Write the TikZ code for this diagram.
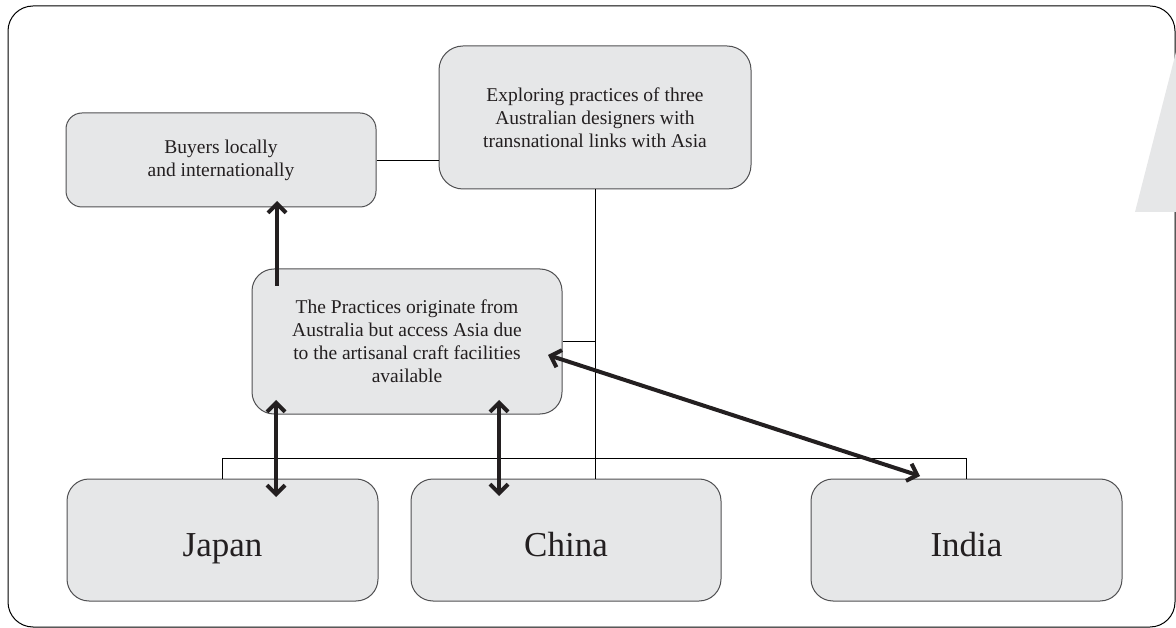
\documentclass[tikz,border=0pt]{standalone}
\usepackage{fontspec}
\setmainfont{Liberation Serif}
\usetikzlibrary{arrows.meta}
\definecolor{boxfill}{HTML}{E6E7E8}
\definecolor{boxline}{HTML}{505052}
\definecolor{ink}{HTML}{231F20}
\begin{document}
\begin{tikzpicture}[x=1pt,y=-1pt,
  box/.style={draw=boxline, fill=boxfill, line width=1pt, inner sep=0pt, align=center, text=ink},
  smalltext/.style={font=\fontsize{19.5}{23}\selectfont},
  bigtext/.style={font=\fontsize{35}{40}\selectfont, text height=32pt, text depth=0pt},
  link/.style={draw=black, line width=0.9pt},
  heavy/.style={line width=4pt, ink, arrows={-Straight Barb[length=9pt,width=18pt]}},
  heavy2/.style={line width=4pt, ink, arrows={Straight Barb[length=9pt,width=18pt]-Straight Barb[length=9pt,width=18pt]}}]
\useasboundingbox (0,0) rectangle (1176,628);
% frame
\draw[line width=1pt, rounded corners=25pt] (8,6) rectangle (1175,627);
\fill[boxfill] (1176,52) -- (1135,212) -- (1176,212) -- cycle;
% boxes
\node[box, smalltext, rounded corners=16pt, minimum width=310pt, minimum height=94pt] (buy) at (221,160) {Buyers locally\\and internationally};
\node[box, smalltext, rounded corners=24pt, minimum width=312pt, minimum height=143pt] (expl) at (595,117.5) {Exploring practices of three\\Australian designers with\\transnational links with Asia};
\node[box, smalltext, rounded corners=22pt, minimum width=310pt, minimum height=145pt] (prac) at (407,341.5) {The Practices originate from\\Australia but access Asia due\\to the artisanal craft facilities\\available};
\node[box, bigtext, rounded corners=22pt, minimum width=311pt, minimum height=122pt] (japan) at (222.5,540) {Japan};
\node[box, bigtext, rounded corners=22pt, minimum width=310pt, minimum height=122pt] (china) at (566,540) {China};
\node[box, bigtext, rounded corners=22pt, minimum width=311pt, minimum height=122pt] (india) at (966.5,540) {India};
% thin connectors
\draw[link] (buy.east) -- (buy.east -| expl.west);
\draw[link] (expl.south) -- (expl.south |- china.north);
\draw[link] (prac.east) -- (prac.east -| expl.south);
\coordinate (bus) at (0,458);
\draw[link] (japan.north) -- (japan.north |- bus) -- (india.north |- bus) -- (india.north);
% heavy arrows
\coordinate (a1s) at (277,286);
\coordinate (a1e) at (277,201);
\draw[heavy] (a1s) -- (a1e);
\coordinate (a2s) at (276,400);
\coordinate (a2e) at (276,497);
\draw[heavy2] (a2s) -- (a2e);
\coordinate (a3s) at (499,400);
\coordinate (a3e) at (499,496);
\draw[heavy2] (a3s) -- (a3e);
\coordinate (a4s) at (548,355);
\coordinate (a4e) at (920,476);
\draw[heavy2] (a4s) -- (a4e);
\end{tikzpicture}
\end{document}
